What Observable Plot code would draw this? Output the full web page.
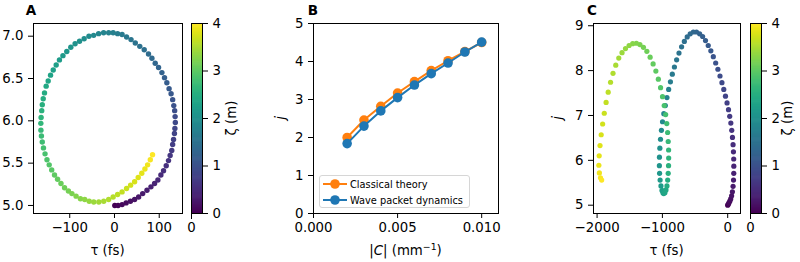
<!DOCTYPE html>
<html><head><meta charset="utf-8">
<script src="https://cdn.jsdelivr.net/npm/d3@7"></script>
<script src="https://cdn.jsdelivr.net/npm/@observablehq/plot@0.6"></script>
<style>
body{margin:0;background:#fff;}
#chart{position:relative;width:800px;height:262px;font-family:"DejaVu Sans",sans-serif;color:#000;overflow:hidden;}
#chart svg text{font-size:13.3px !important;font-family:"DejaVu Sans",sans-serif !important;fill:#000;}
.lbl{position:absolute;transform:translate(-50%,-50%);white-space:nowrap;font-size:13.3px;line-height:1.2;}
.rot{transform:translate(-50%,-50%) rotate(-90deg);}
.let{font-weight:bold;font-size:13.5px;}
.leg{position:absolute;left:319px;top:175px;width:151px;height:33px;box-sizing:border-box;border:1px solid #d6d6d6;border-radius:3px;background:rgba(255,255,255,0.85);font-size:9.8px;}
.leg svg{position:absolute;left:2px;}
.leg span{position:absolute;left:30px;white-space:nowrap;transform:translateY(-50%);}
</style></head><body><div id="chart"></div>
<script>
// ---------- data ----------
// shared propagation distance ζ (m) for the sampled points of panels A and C
const zeta = [0,0.04,0.08,0.12,0.16,0.2,0.24,0.28,0.32,0.36,0.4,0.44,0.48,0.52,0.56,0.6,0.64,0.68,0.72,0.76,
0.8,0.84,0.88,0.92,0.96,1,1.04,1.08,1.12,1.16,1.2,1.24,1.28,1.32,1.36,1.4,1.44,1.48,1.52,1.56,
1.6,1.64,1.68,1.72,1.76,1.8,1.84,1.88,1.92,1.96,2,2.04,2.08,2.12,2.16,2.2,2.24,2.28,2.32,2.36,
2.4,2.44,2.48,2.52,2.56,2.6,2.64,2.68,2.72,2.76,2.8,2.84,2.88,2.92,2.96,3,3.04,3.08,3.12,3.16,
3.2,3.24,3.28,3.32,3.36,3.4,3.44,3.48,3.52,3.56,3.6,3.64,3.68,3.72,3.76,3.8,3.84,3.88,3.92,3.96,4];

// Panel A: τ (fs) and vertical value
const aTau = [0.7,8,17,26,35.6,45,54,63,72.6,81.5,89.6,97,103.7,109.6,115.6,120.7,124.4,128,130,132,
134,135,136,135.5,134.5,132.5,130,126.5,122,117,111.8,106,98.5,91,83.7,76,66.5,56.5,46.5,37,
27,17,7,-3,-13,
-24.3,-35.5,-46.5,-57.1,-67.8,-78.1,-88,-97.6,-106.6,-115.2,-123,-130.3,-136.9,-142.9,-148.2,-152.7,-156.4,-159.3,-161.4,-162.6,
-164,-164.6,-164.4,-163.3,-161.4,-158.7,-155.2,-150.9,-145.9,-140.3,-134,-127.2,-119.6,-111.6,-103,-95.1,-85.8,-76.1,-66.5,-56.5,
-46.3,-35,
-24,-13,-3,7,17,27,36,45,53,61,68,74,80,85];
const aJ = [5.00,5.00,5.01,5.03,5.05,5.07,5.10,5.14,5.18,5.22,5.26,5.30,5.36,5.41,5.47,5.53,5.59,5.65,5.72,5.78,
5.85,5.91,5.98,6.05,6.12,6.18,6.25,6.32,6.38,6.45,6.51,6.57,6.63,6.68,6.74,6.79,6.84,6.88,6.92,6.96,
6.99,7.02,7.03,7.04,7.04,
7.04,7.03,7.01,7.00,6.97,6.94,6.91,6.87,6.82,6.77,6.72,6.66,6.60,6.54,6.47,6.41,6.33,6.26,6.19,6.12,
6.04,5.97,5.89,5.82,5.75,5.68,5.61,5.54,5.48,5.42,5.36,5.31,5.26,5.21,5.17,5.14,5.11,5.08,5.07,5.05,
5.04,5.04,
5.05,5.07,5.10,5.13,5.16,5.20,5.24,5.28,5.33,5.38,5.43,5.48,5.54,5.60];

// Panel B: |C| (mm^-1) and j for the two methods
const bC = [0.002,0.003,0.004,0.005,0.006,0.007,0.008,0.009,0.010];
const bClassical = [2.00,2.46,2.82,3.17,3.47,3.76,4.02,4.26,4.50];
const bWave = [1.84,2.30,2.70,3.05,3.38,3.68,3.96,4.25,4.51];
const bSeries = ["Classical theory","Wave packet dynamics"];

// Panel C: τ (fs) and j
const cTau = [0,8,18,32,46,60,72,82,89,93,94,92,88,82,73,62,48,31,12,-10,
-34,-60,-88,-118,-150,-184,-220,-258,-298,-340,-384,-430,-478,-526,
-574,-620,-664,-706,-746,-782,-816,-848,-877,-904,-930,-955,-978,-998,-1015,-1029,
-1039,-1045,-1046,-1043,-1035,-1022,-1006,-992,-980,
-962,-945,-930,-919,-911,-906,-904,-905,-911,-920,-933,-950,-972,-998,-1028,-1062,-1100,-1142,-1188,-1238,
-1290,-1344,-1398,
-1455,-1510,-1565,-1618,-1668,-1714,-1756,-1794,-1830,-1862,-1890,-1915,-1937,-1955,-1968,-1973,-1965,-1948,-1930];
const cJ = [5.00,5.02,5.05,5.09,5.14,5.21,5.30,5.42,5.56,5.71,5.87,6.03,6.19,6.35,6.51,6.67,6.83,6.98,7.13,7.28,
7.43,7.58,7.73,7.88,8.03,8.17,8.31,8.44,8.56,8.67,8.76,8.82,8.86,8.86,
8.82,8.75,8.65,8.53,8.39,8.24,8.08,7.92,7.75,7.58,7.40,7.22,7.04,6.86,6.67,6.47,
6.27,6.07,5.88,5.71,5.56,5.43,5.33,5.28,5.26,
5.28,5.34,5.43,5.56,5.71,5.88,6.05,6.23,6.42,6.62,6.82,7.02,7.22,7.42,7.62,7.81,7.99,8.15,8.30,8.43,
8.52,8.58,8.61,
8.60,8.56,8.49,8.40,8.28,8.12,7.94,7.74,7.52,7.29,7.05,6.81,6.57,6.33,6.10,5.89,5.72,5.61,5.56];

// tick labels
const aXTicks = [-100,0,100];
const aYTicks = [5.0,5.5,6.0,6.5,7.0];
const bXTicks = [0.000,0.005,0.010];
const bYTicks = [0,1,2,3,4,5];
const cXTicks = [-2000,-1000,0];
const cYTicks = [5,6,7,8,9];
const cbTicks = [0,1,2,3,4];

// ---------- build ----------
const chart = document.getElementById("chart");
const fmtInt = d3.format("d");
const fmt1 = d3.format(".1f");
const fmt3 = d3.format(".3f");
const FS = 13.3;
const colorOpt = {type:"linear", scheme:"viridis", domain:[0,4]};
const baseStyle = {background:"transparent", fontFamily:"DejaVu Sans", fontSize:FS+"px", color:"#000", overflow:"visible"};

function place(opts, left){
  const svg = Plot.plot({...opts, style: baseStyle});
  svg.style.position = "absolute";
  svg.style.left = left + "px";
  svg.style.top = "0px";
  chart.appendChild(svg);
}
function label(html, x, y, cls){
  const d = document.createElement("div");
  d.className = "lbl" + (cls ? " " + cls : "");
  d.style.left = x + "px"; d.style.top = y + "px";
  d.innerHTML = html;
  chart.appendChild(d);
}
const axX = (ticks, fmt) => Plot.axisX({ticks, tickFormat:fmt, tickSize:5, tickPadding:4, label:null, fontSize:FS, stroke:"#000"});
const axY = (ticks, fmt, anchor="left") => Plot.axisY({anchor, ticks, tickFormat:fmt, tickSize:5, tickPadding:5, label:null, fontSize:FS, stroke:"#000"});

const aData = aTau.map((t,i)=>({tau:t, v:aJ[i], z:zeta[i]}));
const cData = cTau.map((t,i)=>({tau:t, v:cJ[i], z:zeta[i]}));
const bData = bC.flatMap((c,i)=>[
  {c, j:bClassical[i], s:bSeries[0]},
  {c, j:bWave[i], s:bSeries[1]}]);
const grad = d3.range(0, 4, 0.02);

// Panel A
place({width:190, height:262, marginLeft:33, marginRight:8, marginTop:23, marginBottom:49,
  x:{domain:[-181,152]}, y:{domain:[4.905,7.15]}, color:colorOpt,
  marks:[
    Plot.dot(aData, {x:"tau", y:"v", fill:"z", r:2.7}),
    Plot.frame({stroke:"#000"}),
    axX(aXTicks, fmtInt),
    axY(aYTicks, fmt1)
  ]}, 0);

// colorbar
function colorbar(left){
  place({width:70, height:262, marginLeft:6, marginRight:53, marginTop:23, marginBottom:49,
    x:{domain:[0,1]}, y:{domain:[0,4]}, color:colorOpt,
    marks:[
      Plot.rect(grad, {x1:()=>0, x2:()=>1, y1:d=>d, y2:d=>Math.min(4, d+0.035), fill:d=>d+0.01}),
      Plot.frame({stroke:"#000"}),
      axY(cbTicks, fmtInt, "right")
    ]}, left);
}
colorbar(185);

// Panel B
place({width:240, height:262, marginLeft:43, marginRight:12, marginTop:23, marginBottom:49,
  x:{domain:[0,0.011]}, y:{domain:[0,5]},
  color:{domain:bSeries, range:["#ff7f0e","#1f77b4"]},
  marks:[
    Plot.line(bData.filter(d=>d.s===bSeries[0]), {x:"c", y:"j", stroke:"s", strokeWidth:2}),
    Plot.dot(bData.filter(d=>d.s===bSeries[0]), {x:"c", y:"j", fill:"s", r:4.8}),
    Plot.line(bData.filter(d=>d.s===bSeries[1]), {x:"c", y:"j", stroke:"s", strokeWidth:2}),
    Plot.dot(bData.filter(d=>d.s===bSeries[1]), {x:"c", y:"j", fill:"s", r:4.8}),
    Plot.frame({stroke:"#000"}),
    axX(bXTicks, fmt3),
    axY(bYTicks, fmtInt)
  ]}, 270);

// Panel C
place({width:205, height:262, marginLeft:53, marginRight:5, marginTop:23, marginBottom:49,
  x:{domain:[-2055,196]}, y:{domain:[4.815,9.05]}, color:colorOpt,
  marks:[
    Plot.dot(cData, {x:"tau", y:"v", fill:"z", r:2.6}),
    Plot.frame({stroke:"#000"}),
    axX(cXTicks, fmtInt),
    axY(cYTicks, fmtInt)
  ]}, 540);
colorbar(744);

// axis labels & panel letters
label("τ (fs)", 107.5, 251);
label("ζ (m)", 232, 118, "rot");
label("<i>j</i>", 281, 118, "rot");
label("|<i>C</i>| (mm<span style='font-size:70%;position:relative;top:-0.55em'>−1</span>)", 405.5, 251);
label("<i>j</i>", 558, 118, "rot");
label("τ (fs)", 666.5, 251);
label("ζ (m)", 788, 118, "rot");
label("A", 31, 9.5, "let");
label("B", 313, 9.5, "let");
label("C", 592, 9.5, "let");

// legend for panel B
const leg = document.createElement("div");
leg.className = "leg";
const legColors = ["#ff7f0e","#1f77b4"];
bSeries.forEach((name,i)=>{
  const cy = i === 0 ? 8.2 : 23.5;
  const s = d3.create("svg").attr("width",26).attr("height",12).style("top",(cy-6)+"px");
  s.append("line").attr("x1",1).attr("x2",25).attr("y1",6).attr("y2",6).attr("stroke",legColors[i]).attr("stroke-width",2);
  s.append("circle").attr("cx",13).attr("cy",6).attr("r",4.8).attr("fill",legColors[i]);
  leg.appendChild(s.node());
  const t = document.createElement("span");
  t.textContent = name; t.style.top = cy + "px";
  leg.appendChild(t);
});
chart.appendChild(leg);
</script></body></html>
